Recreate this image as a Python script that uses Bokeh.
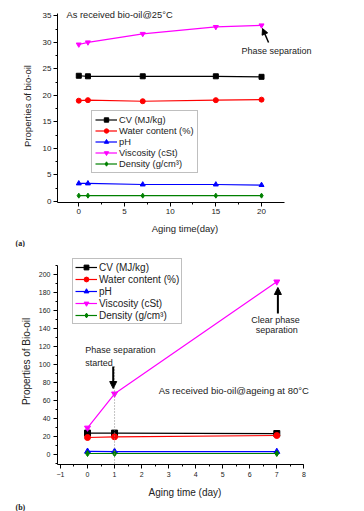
from bokeh.plotting import figure
from bokeh.layouts import column
from bokeh.models import (Range1d, SingleIntervalTicker, Label, Arrow, NormalHead,
                          Legend, LegendItem, Title)
from bokeh.embed import file_html
from bokeh.resources import INLINE

# ---------------- data ----------------
days_a = [0, 1, 7, 15, 20]
cv_a = [23.7, 23.6, 23.6, 23.6, 23.5]
water_a = [19.0, 19.1, 18.9, 19.1, 19.2]
ph_a = [3.4, 3.4, 3.2, 3.2, 3.1]
visc_a = [29.6, 30.0, 31.6, 32.9, 33.2]
dens_a = [1.1, 1.1, 1.1, 1.1, 1.1]

days_b = [0, 1, 7]
cv_b = [23.8, 23.8, 23.3]
water_b = [18.9, 19.6, 21.1]
ph_b = [3.4, 3.3, 3.2]
visc_b = [29.6, 67.5, 192.0]
dens_b = [1.1, 1.1, 1.1]

labels = ["CV (MJ/kg)", "Water content (%)", "pH", "Viscosity (cSt)", "Density (g/cm\u00b3)"]
colors = ["#000000", "#ff0000", "#0000ff", "#ff00ff", "#008000"]
markers = ["square", "circle", "triangle", "inverted_triangle", "diamond"]

FONT = "Liberation Sans"
W = 364
BL = 57          # common left border (column aligns plot frames)
FW = 255         # common frame width
BR = W - BL - FW


def make_fig(fh, bt, xr, yr, xb, yb, xint, yint, xlabel, ylabel,
             tick_fs, lab_fs, tick_so, lab_so_x, lab_so_y):
    p = figure(frame_width=FW, frame_height=fh,
               min_border_left=BL, min_border_right=BR,
               min_border_top=bt, min_border_bottom=0,
               x_range=Range1d(*xr), y_range=Range1d(*yr),
               output_backend="svg", toolbar_location=None)
    p.outline_line_color = None
    p.grid.visible = False
    p.background_fill_color = "white"
    p.border_fill_color = "white"
    p.xaxis.ticker = SingleIntervalTicker(interval=xint, num_minor_ticks=2)
    p.yaxis.ticker = SingleIntervalTicker(interval=yint, num_minor_ticks=2)
    p.xaxis.bounds = xb
    p.yaxis.bounds = yb
    p.xaxis.axis_label = xlabel
    p.yaxis.axis_label = ylabel
    for ax, so in ((p.xaxis, lab_so_x), (p.yaxis, lab_so_y)):
        ax.axis_line_color = "black"
        ax.major_tick_line_color = "black"
        ax.minor_tick_line_color = "black"
        ax.major_tick_in = 0
        ax.major_tick_out = 4
        ax.minor_tick_in = 0
        ax.minor_tick_out = 2
        ax.major_label_text_font = FONT
        ax.major_label_text_font_size = tick_fs
        ax.major_label_text_color = "#222222"
        ax.major_label_standoff = tick_so
        ax.axis_label_text_font = FONT
        ax.axis_label_text_font_style = "normal"
        ax.axis_label_text_font_size = lab_fs
        ax.axis_label_text_color = "#222222"
        ax.axis_label_standoff = so
    return p


def add_series(p, days, series, msize, leg_loc, leg_fs, lab_h, pad):
    items = []
    for lab, col, mk, ys in zip(labels, colors, markers, series):
        lr = p.line(days, ys, line_color=col, line_width=1.2)
        sr = p.scatter(days, ys, marker=mk, size=msize, fill_color=col, line_color=col)
        items.append(LegendItem(label=lab, renderers=[lr, sr]))
    leg = Legend(items=items, location=leg_loc, margin=0, padding=pad,
                 spacing=0, label_height=lab_h, glyph_height=lab_h, glyph_width=22,
                 label_standoff=2, label_text_font=FONT, label_text_font_size=leg_fs,
                 label_text_color="#222222",
                 border_line_color="#808080", border_line_width=1,
                 background_fill_color="white", background_fill_alpha=1)
    p.add_layout(leg, "center")


def panel_tag(p, text, offset):
    t = Title(text=text, align="left", offset=offset, standoff=0,
              text_font="Liberation Serif", text_font_style="bold",
              text_font_size="8px", text_color="#222222")
    p.add_layout(t, "below")


# ---------------- (a) ----------------
pa = make_fig(193, 9, (-2.33, 25.58), (-0.19, 36.19),
              (-2.33, 22.48), (-0.19, 35.43), 5, 5,
              "Aging time(day)", "Properties of bio-oil",
              "8px", "9.5px", 2, 6, 7)
add_series(pa, days_a, [cv_a, water_a, ph_a, visc_a, dens_a], 5, (34, 29), "9.3px", 11, 3)

pa.add_layout(Label(x=-1.35, y=35.06, text="As received bio-oil@25\u00b0C",
                    text_font=FONT, text_font_size="9.3px", text_baseline="middle",
                    text_color="#222222"))
pa.add_layout(Label(x=17.81, y=28.45, text="Phase separation",
                    text_font=FONT, text_font_size="9px", text_baseline="middle",
                    text_color="#222222"))
pa.add_layout(Arrow(x_start=20.77, y_start=29.96, x_end=20.11, y_end=32.6,
                    line_width=1.5, line_color="black",
                    end=NormalHead(size=6, fill_color="black", line_color="black")))
panel_tag(pa, "(a)", -42)

# ---------------- (b) ----------------
pb = make_fig(206, 11, (-1.11, 8.32), (-11.1, 217.8),
              (-1.11, 8), (-11.1, 210), 1, 20,
              "Aging time (day)", "Properties of Bio-oil",
              "7px", "10px", 3, 7, 4)
add_series(pb, days_b, [cv_b, water_b, ph_b, visc_b, dens_b], 6, (15, 140), "10px", 12, 2)

pb.line([1, 1], [97.8, -11.1], line_color="#888888", line_width=1, line_dash="1 2")
pb.add_layout(Label(x=-0.08, y=115.6, text="Phase separation",
                    text_font=FONT, text_font_size="9px", text_baseline="middle",
                    text_color="#222222"))
pb.add_layout(Label(x=-0.08, y=102.2, text="started",
                    text_font=FONT, text_font_size="9px", text_baseline="middle",
                    text_color="#222222"))
pb.add_layout(Arrow(x_start=0.95, y_start=97.8, x_end=0.95, y_end=73.3,
                    line_width=2, line_color="black",
                    end=NormalHead(size=7, fill_color="black", line_color="black")))
pb.add_layout(Label(x=6.95, y=150.0, text="Clear phase", text_align="center",
                    text_font=FONT, text_font_size="9px", text_baseline="middle",
                    text_color="#222222"))
pb.add_layout(Label(x=7.0, y=138.9, text="separation", text_align="center",
                    text_font=FONT, text_font_size="9px", text_baseline="middle",
                    text_color="#222222"))
pb.add_layout(Arrow(x_start=7.04, y_start=156.7, x_end=7.04, y_end=185.6,
                    line_width=2, line_color="black",
                    end=NormalHead(size=7, fill_color="black", line_color="black")))
pb.add_layout(Label(x=2.63, y=71.1, text="As received bio-oil@ageing at 80\u00b0C",
                    text_font=FONT, text_font_size="9.5px", text_baseline="middle",
                    text_color="#222222"))
panel_tag(pb, "(b)", -42)

layout = column(pa, pb, spacing=0)
open("out.html", "w").write(file_html(layout, INLINE))
